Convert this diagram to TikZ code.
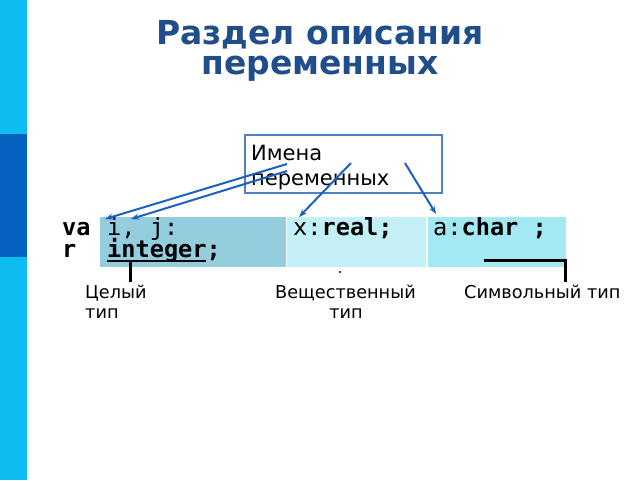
\documentclass[tikz,border=0pt]{standalone}
\usepackage{fontspec}
\setmainfont{DejaVu Sans}
\newfontfamily\monof{DejaVu Sans Mono}
\usetikzlibrary{arrows.meta}
\definecolor{barlight}{HTML}{0DBDF0}
\definecolor{bardark}{HTML}{0562C0}
\definecolor{titlec}{HTML}{1F4E8A}
\definecolor{boxc}{HTML}{4F7FC4}
\definecolor{arrc}{HTML}{1A62BE}
\definecolor{cellA}{HTML}{94CDDE}
\definecolor{cellB}{HTML}{C2F0F6}
\definecolor{cellC}{HTML}{A2E9F3}
\begin{document}
\begin{tikzpicture}[x=1pt,y=-1pt,
  txt/.style={inner sep=0pt, anchor=base west},
  titletxt/.style={inner sep=0pt, anchor=base, text=titlec, font=\fontsize{33}{38}\selectfont\bfseries},
  nametxt/.style={txt, font=\fontsize{21}{24}\selectfont},
  codetxt/.style={txt, font=\fontsize{23.6}{26}\selectfont\monof},
  lbltxt/.style={txt, font=\fontsize{17.7}{20}\selectfont},
  cellbox/.style={inner sep=0pt, anchor=north west, minimum height=50pt},
  arr/.style={draw=arrc, line width=2pt, -{Stealth[length=8pt,width=6pt]}},
  brk/.style={draw=black, line width=3pt}]
\useasboundingbox (0,0) rectangle (640,480);
\fill[barlight] (0,0) rectangle (27,480);
\fill[bardark] (0,134) rectangle (27,257);
% title
\node[titletxt] (t1) at (320,44) {Раздел описания};
\node[titletxt] (t2) at (320,74) {переменных};
% names box
\node[draw=boxc, line width=2pt, anchor=north west, minimum width=197pt, minimum height=58pt, inner sep=0pt] (names) at (244,134) {};
\node[nametxt] (n1) at (251,160) {Имена};
\node[nametxt] (n2) at (251,185) {переменных};
% cells
\node[cellbox, fill=cellA, minimum width=186pt] (cell1) at (100,217) {};
\node[cellbox, fill=cellB, minimum width=139pt] (cell2) at (287,217) {};
\node[cellbox, fill=cellC, minimum width=138pt] (cell3) at (428,217) {};
% code
\node[codetxt] (va) at (62,235) {\bfseries va};
\node[codetxt] (vr) at (62,257) {\bfseries r};
\node[codetxt] (ij) at (107,235) {i, j:};
\node[codetxt] (intg) at (107,257) {\bfseries integer;};
\node[codetxt] (xr) at (293,235) {x:\textbf{real;}};
\node[codetxt] (ac) at (433,235) {a:\textbf{char ;}};
% underline and brackets
\draw[black, line width=2.2pt] (intg.base west) ++(0,4) -- ++(99,0);
\coordinate (b1t) at (130,261);
\coordinate (b1b) at (130,282);
\draw[brk] (b1t) -- (b1b);
\coordinate (b3l) at (484,260);
\coordinate (b3c) at (565,260);
\coordinate (b3b) at (565,282);
\draw[brk] (b3l) -- (b3c) -- (b3b);
\fill[black] (340,272) circle (1.2pt);
% labels
\node[lbltxt] (l1) at (85,298) {Целый};
\node[lbltxt] (l1b) at (85,318) {тип};
\node[lbltxt] (l2) at (275,298) {Вещественный};
\node[lbltxt, anchor=base] (l2b) at (346,318) {тип};
\node[lbltxt] (l3) at (464,298) {Символьный тип};
% arrows
\coordinate (a1s) at (287,164);
\coordinate (a1e) at (105,219);
\coordinate (a2s) at (287,171);
\coordinate (a2e) at (131,219);
\coordinate (a3s) at (351,163);
\coordinate (a3e) at (299,217);
\coordinate (a4s) at (405,163);
\coordinate (a4e) at (436,214);
\draw[arr] (a1s) -- (a1e);
\draw[arr] (a2s) -- (a2e);
\draw[arr] (a3s) -- (a3e);
\draw[arr] (a4s) -- (a4e);
\end{tikzpicture}
\end{document}
